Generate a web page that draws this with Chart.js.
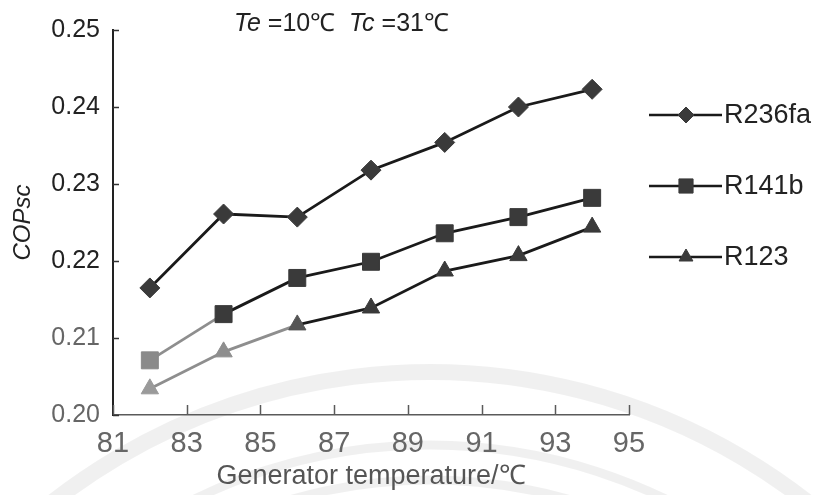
<!DOCTYPE html>
<html>
<head>
<meta charset="utf-8">
<title>COPsc vs generator temperature</title>
<script src="https://cdn.jsdelivr.net/npm/chart.js@4.4.1/dist/chart.umd.min.js"></script>
<style>
  html, body { margin: 0; padding: 0; background: #fff; }
  #wrap { width: 818px; height: 495px; }
</style>
</head>
<body>
<div id="wrap"><canvas id="copChart" width="818" height="495"></canvas></div>
<script>
// generator temperature (°C) and COPsc for each refrigerant
var temps = [82, 84, 86, 88, 90, 92, 94];
var copR236fa = [0.2165, 0.2261, 0.2257, 0.2318, 0.2354, 0.2400, 0.2423];
var copR141b = [0.2071, 0.2131, 0.2178, 0.2199, 0.2236, 0.2257, 0.2282];
var copR123 = [0.2034, 0.2082, 0.2117, 0.2139, 0.2187, 0.2207, 0.2244];
var seriesNames = ['R236fa', 'R141b', 'R123'];
var xTicks = [81, 83, 85, 87, 89, 91, 93, 95];
var yTicks = [0.20, 0.21, 0.22, 0.23, 0.24, 0.25];

(function () {
  'use strict';

  var ink = '#1a1a1a';
  var markFill = '#3a3a3a';
  var faded = '#8e8e8e';
  var axisGray = '#5a5a5a';
  var font = "'Liberation Sans', Arial, Helvetica, sans-serif";

  function points(ys) {
    return temps.map(function (t, i) { return { x: t, y: ys[i] }; });
  }

  // first few marks of the lower curves print lighter
  function fadeFirst(n) {
    return function (ctx) { return ctx.p0DataIndex < n ? faded : ink; };
  }

  function series(name, ys, style, radius, fills, fadeSegs) {
    return {
      label: name,
      data: points(ys),
      borderColor: ink,
      borderWidth: 2.8,
      pointStyle: style,
      pointRadius: radius,
      pointBackgroundColor: fills,
      pointBorderColor: fills,
      pointBorderWidth: 1,
      tension: 0,
      segment: { borderColor: fadeFirst(fadeSegs) }
    };
  }

  // faint circular watermark behind the plot
  var watermark = {
    id: 'watermark',
    beforeDraw: function (chart) {
      var ctx = chart.ctx;
      ctx.save();
      ctx.strokeStyle = 'rgba(0,0,0,0.06)';
      ctx.lineWidth = 16;
      ctx.beginPath(); ctx.arc(430, 985, 613, Math.PI * 1.08, Math.PI * 1.95); ctx.stroke();
      ctx.lineWidth = 9;
      ctx.beginPath(); ctx.arc(430, 985, 540, Math.PI * 1.1, Math.PI * 1.9); ctx.stroke();
      ctx.beginPath(); ctx.arc(430, 985, 505, Math.PI * 1.15, Math.PI * 1.85); ctx.stroke();
      ctx.restore();
    }
  };

  // tick marks pointing into the plot
  var innerTicks = {
    id: 'innerTicks',
    afterDraw: function (chart) {
      var ctx = chart.ctx;
      var area = chart.chartArea;
      var xs = chart.scales.x;
      var ys = chart.scales.y;
      ctx.save();
      ctx.lineWidth = 1.5;
      ctx.strokeStyle = axisGray;
      xs.ticks.forEach(function (t, i) {
        var px = Math.round(xs.getPixelForTick(i)) + 0.5;
        ctx.beginPath();
        ctx.moveTo(px, area.bottom);
        ctx.lineTo(px, area.bottom - 10);
        ctx.stroke();
      });
      ctx.strokeStyle = '#333';
      ys.ticks.forEach(function (t, i) {
        var py = Math.round(ys.getPixelForTick(i)) + 0.5;
        ctx.beginPath();
        ctx.moveTo(area.left, py);
        ctx.lineTo(area.left + 6, py);
        ctx.stroke();
      });
      ctx.restore();
    }
  };

  // condition line at the top, Te and Tc in italics
  var condTitle = {
    id: 'condTitle',
    afterDraw: function (chart) {
      var ctx = chart.ctx;
      var parts = [
        ['Te', 'italic'], [' =10\u2103  ', 'normal'],
        ['Tc', 'italic'], [' =31\u2103', 'normal']
      ];
      var x = 234;
      ctx.save();
      ctx.fillStyle = '#222';
      ctx.textBaseline = 'middle';
      parts.forEach(function (p) {
        ctx.font = p[1] + ' 25px ' + font;
        ctx.fillText(p[0], x, 24);
        x += ctx.measureText(p[0]).width;
      });
      ctx.restore();
    }
  };

  // legend on the right: short line with the series marker, then the name
  var sideLegend = {
    id: 'sideLegend',
    afterDraw: function (chart) {
      var ctx = chart.ctx;
      var rowY = [115, 186, 257];
      chart.data.datasets.forEach(function (ds, i) {
        var y = rowY[i];
        ctx.save();
        ctx.strokeStyle = ink;
        ctx.lineWidth = 2.5;
        ctx.beginPath();
        ctx.moveTo(649, y);
        ctx.lineTo(722, y);
        ctx.stroke();
        ctx.fillStyle = markFill;
        ctx.strokeStyle = markFill;
        ctx.lineWidth = 1;
        Chart.helpers.drawPoint(ctx, {
          pointStyle: ds.pointStyle, radius: ds.pointRadius - 2, rotation: 0, borderWidth: 1
        }, 686, y);
        ctx.fillStyle = '#222';
        ctx.font = '27px ' + font;
        ctx.textBaseline = 'middle';
        ctx.fillText(ds.label, 724, y + 1);
        ctx.restore();
      });
    }
  };

  var dark7 = [markFill, markFill, markFill, markFill, markFill, markFill, markFill];

  new Chart(document.getElementById('copChart').getContext('2d'), {
    type: 'line',
    data: {
      datasets: [
        series(seriesNames[0], copR236fa, 'rectRot', 10, dark7, 0),
        series(seriesNames[1], copR141b, 'rect', 12,
          ['#8a8a8a', markFill, markFill, markFill, markFill, markFill, markFill], 1),
        series(seriesNames[2], copR123, 'triangle', 10,
          ['#9a9a9a', '#8e8e8e', '#555', markFill, markFill, markFill, markFill], 2)
      ]
    },
    options: {
      responsive: false,
      animation: false,
      layout: { padding: { top: 30, right: 189, left: 0, bottom: 0 } },
      scales: {
        x: {
          type: 'linear',
          min: 81,
          max: 95,
          afterFit: function (s) { s.height = 80; },
          afterBuildTicks: function (s) { s.ticks = xTicks.map(function (v) { return { value: v }; }); },
          grid: { display: true, drawOnChartArea: false, drawTicks: false },
          border: { display: true, color: axisGray, width: 1.5 },
          ticks: {
            padding: 12,
            color: '#666',
            font: { family: font, size: 29 }
          },
          title: {
            display: true,
            text: 'Generator temperature/\u2103',
            color: '#555',
            font: { family: font, size: 27 },
            padding: { top: 0, bottom: 2 }
          }
        },
        y: {
          min: 0.20,
          max: 0.25,
          afterFit: function (s) { s.width = 113; },
          afterBuildTicks: function (s) { s.ticks = yTicks.map(function (v) { return { value: v }; }); },
          grid: { display: true, drawOnChartArea: false, drawTicks: false },
          border: { display: true, color: '#222', width: 2 },
          ticks: {
            padding: 13,
            color: function (c) { return c.tick && c.tick.value < 0.215 ? '#666' : '#222'; },
            font: { family: font, size: 25 },
            callback: function (v) { return v.toFixed(2); }
          },
          title: {
            display: true,
            text: 'COPsc',
            color: '#222',
            font: { family: font, size: 24, style: 'italic' },
            padding: { top: 9, bottom: 0 }
          }
        }
      },
      plugins: {
        legend: { display: false },
        tooltip: { enabled: false }
      }
    },
    plugins: [watermark, innerTicks, condTitle, sideLegend]
  });
})();
</script>
</body>
</html>
